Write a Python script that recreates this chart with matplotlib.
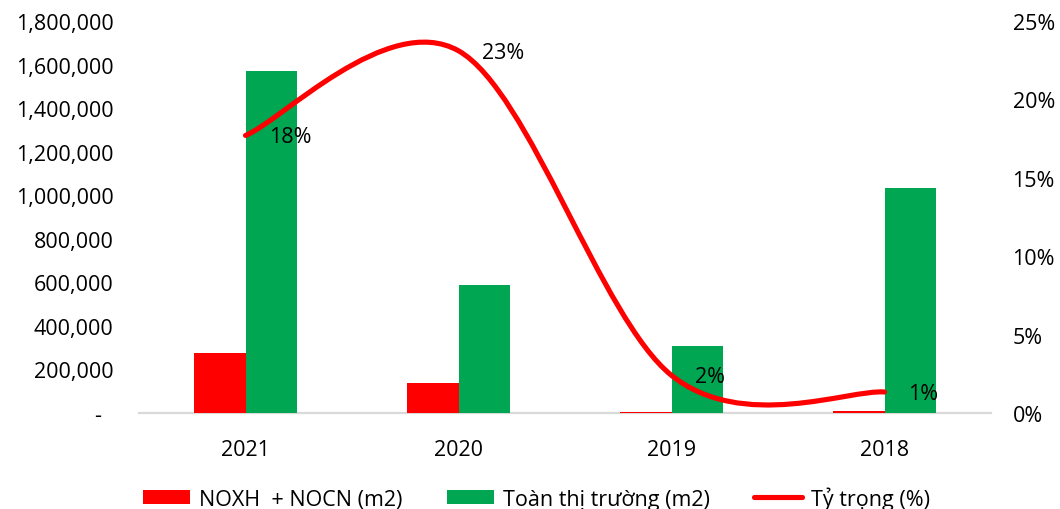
import matplotlib
matplotlib.use("Agg")
import matplotlib.pyplot as plt
from matplotlib.path import Path
from matplotlib.patches import PathPatch
from matplotlib.lines import Line2D
from matplotlib.ticker import FuncFormatter, MultipleLocator
import numpy as np

# ── Data ───────────────────────────────────────────────
years = ["2021", "2020", "2019", "2018"]
noxh_nocn = [275000, 138000, 4000, 11000]            # m2
toan_thi_truong = [1570000, 588000, 308000, 1033000]  # m2
ty_trong = [0.177, 0.231, 0.024, 0.0134]           # share
ty_trong_labels = ["18%", "23%", "2%", "1%"]

RED = "#ff0000"
GREEN = "#00a651"

plt.rcParams.update({
    "font.family": "Open Sans",
    "font.size": 15.5,
    "text.color": "black",
})

fig = plt.figure(figsize=(10.6, 5.1), dpi=100)
ax = fig.add_axes([139 / 1060, 96 / 510, 852 / 1060, 392 / 510])
ax2 = ax.twinx()

x = np.arange(len(years))
w = 0.24
b1 = ax.bar(x - w / 2, noxh_nocn, w, color=RED, zorder=3,
            label="NOXH  + NOCN (m2)")
b2 = ax.bar(x + w / 2, toan_thi_truong, w, color=GREEN, zorder=3,
            label="Toàn thị trường (m2)")

ax.set_xlim(-0.5, len(years) - 0.5)
ax.set_ylim(0, 1800000)
ax.yaxis.set_major_locator(MultipleLocator(200000))
ax.yaxis.set_major_formatter(FuncFormatter(lambda v, p: "-  " if v == 0 else f"{v:,.0f}"))
ax.set_xticks(x)
ax.set_xticklabels(years)
ax.tick_params(axis="y", length=0, pad=18.5)
ax.tick_params(axis="x", length=0, pad=18.5)
for s in ["top", "left", "right"]:
    ax.spines[s].set_visible(False)
ax.spines["bottom"].set_color("#d9d9d9")
ax.spines["bottom"].set_linewidth(1.6)
ax.spines["bottom"].set_zorder(1)

# ── Smoothed line (Catmull-Rom as Bezier, like Excel) ──
pts = np.column_stack([x, ty_trong]).astype(float)
n = len(pts)
verts = [pts[0]]
codes = [Path.MOVETO]
for i in range(n - 1):
    p0 = pts[max(i - 1, 0)]
    p1 = pts[i]
    p2 = pts[i + 1]
    p3 = pts[min(i + 2, n - 1)]
    verts += [p1 + (p2 - p0) / 6, p2 - (p3 - p1) / 6, p2]
    codes += [Path.CURVE4] * 3
curve = PathPatch(Path(verts, codes), facecolor="none", edgecolor=RED,
                  linewidth=3.7, capstyle="round", transform=ax2.transData)
ax2.add_patch(curve)

ax2.set_ylim(0, 0.25)
ax2.yaxis.set_major_locator(MultipleLocator(0.05))
ax2.yaxis.set_major_formatter(FuncFormatter(lambda v, p: f"{v * 100:.0f}%"))
ax2.tick_params(axis="y", length=0, pad=15.5)
for s in ax2.spines.values():
    s.set_visible(False)

for xi, yi, lbl in zip(x, ty_trong, ty_trong_labels):
    ax2.annotate(lbl, (xi, yi), xytext=(17, -1), textcoords="offset points",
                 ha="left", va="center")

# ── Legend along the bottom edge ───────────────────────
line_handle = Line2D([], [], color=RED, linewidth=3.7, solid_capstyle="round")
fig.legend([b1, b2, line_handle],
           ["NOXH  + NOCN (m2)", "Toàn thị trường (m2)", "Tỷ trọng (%)"],
           loc="center left", bbox_to_anchor=(143 / 1060, 11 / 510),
           ncol=3, frameon=False, borderpad=0, borderaxespad=0,
           handlelength=2.2, handleheight=0.65, handletextpad=0.42,
           columnspacing=2.05)

fig.savefig("out.png", dpi=100)
plt.close(fig)
